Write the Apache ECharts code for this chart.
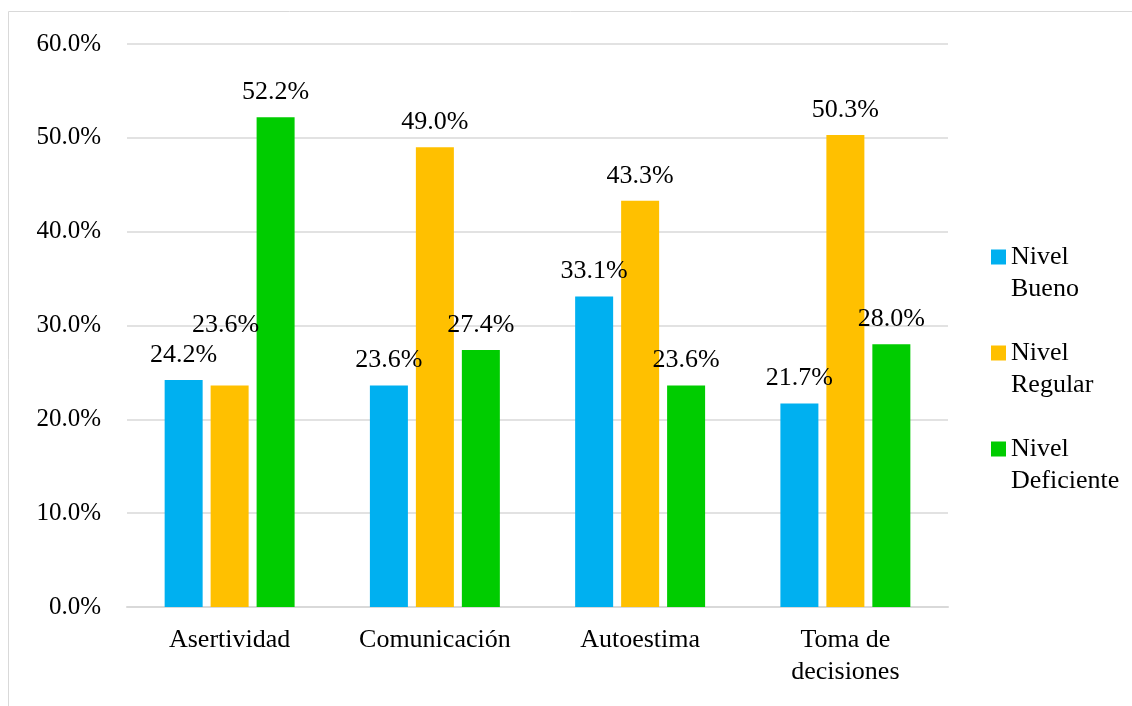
<!DOCTYPE html>
<html>
<head>
<meta charset="utf-8">
<script src="https://cdn.jsdelivr.net/npm/echarts@6/dist/echarts.min.js"></script>
<style>
  html, body { margin: 0; padding: 0; background: #fff; }
  #chart { width: 1132px; height: 706px; }
</style>
</head>
<body>
<div id="chart"></div>
<script>
const categories = ['Asertividad', 'Comunicación', 'Autoestima', 'Toma de\ndecisiones']
const seriesNames = ['Nivel\nBueno', 'Nivel\nRegular', 'Nivel\nDeficiente']
const bueno = [24.2, 23.6, 33.1, 21.7]
const regular = [23.6, 49.0, 43.3, 50.3]
const deficiente = [52.2, 27.4, 23.6, 28.0]
const colors = ['#00b0f0', '#ffc000', '#00cc00']

const FONT = 'Liberation Serif'
const FS = 26
const chart = echarts.init(document.getElementById('chart'))

function makeSeries(name, values, color, labelShift) {
  return {
    name: name,
    type: 'bar',
    barWidth: 38,
    barGap: '21%',
    itemStyle: { color: color },
    label: {
      show: true,
      position: 'top',
      distance: 12,
      color: '#000',
      fontFamily: FONT,
      fontSize: FS,
      formatter: p => p.value.toFixed(1) + '%'
    },
    data: values.map((v, i) => {
      const d = { value: v }
      if (labelShift && labelShift[i]) d.label = { offset: labelShift[i] }
      return d
    }),
    animation: false
  }
}

chart.setOption({
  animation: false,
  graphic: [{
    type: 'rect',
    shape: { x: 8.5, y: 11.5, width: 1300, height: 900 },
    style: { fill: 'none', stroke: '#d9d9d9', lineWidth: 1 },
    silent: true
  }],
  grid: { left: 127, right: 184, top: 44, bottom: 99, containLabel: false },
  legend: {
    orient: 'vertical',
    left: 986,
    top: 236,
    itemWidth: 15,
    itemHeight: 47,
    itemGap: 32,
    // square at the top, tiny invisible mark at the bottom so the box spans two lines
    icon: 'path://M0,0H15V15H0Z M0,47H15V47.01H0Z',
    textStyle: {
      fontFamily: FONT,
      fontSize: FS,
      color: '#000',
      lineHeight: 32
    },
    data: seriesNames
  },
  xAxis: {
    type: 'category',
    data: categories,
    axisTick: { show: false },
    axisLine: { lineStyle: { color: '#d9d9d9', width: 2 } },
    axisLabel: {
      color: '#000',
      fontFamily: FONT,
      fontSize: FS,
      lineHeight: 32,
      margin: 17,
      interval: 0
    }
  },
  yAxis: {
    type: 'value',
    min: 0,
    max: 60,
    interval: 10,
    axisLine: { show: false },
    axisTick: { show: false },
    splitLine: { lineStyle: { color: '#d9d9d9', width: 1.5 } },
    axisLabel: {
      color: '#000',
      fontFamily: FONT,
      fontSize: 25,
      margin: 26,
      formatter: v => v.toFixed(1) + '%'
    }
  },
  series: [
    makeSeries(seriesNames[0], bueno, colors[0]),
    makeSeries(seriesNames[1], regular, colors[1], [[-4, -35], null, null, null]),
    makeSeries(seriesNames[2], deficiente, colors[2])
  ]
})
</script>
</body>
</html>
